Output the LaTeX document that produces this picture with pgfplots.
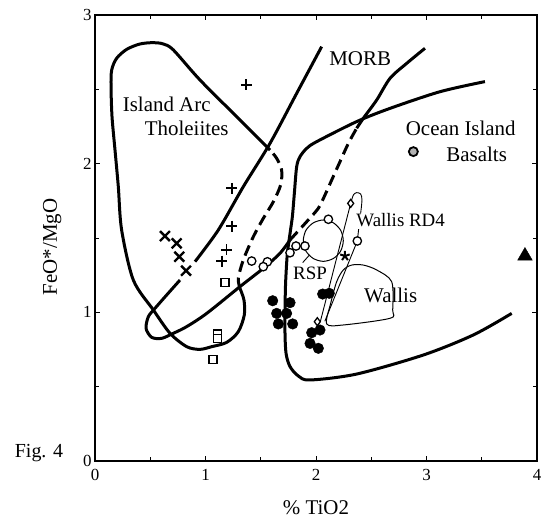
\documentclass[border=0pt]{standalone}
\usepackage{fontspec}
\setmainfont{Liberation Serif}
\usepackage{pgfplots}
\pgfplotsset{compat=1.18}
\begin{document}
\begin{tikzpicture}
\begin{axis}[name=ax, scale only axis, width=442bp, height=446bp,
  xmin=0, xmax=4, ymin=0, ymax=3,
  xtick={0,1,2,3,4}, ytick={0,1,2,3}, minor tick num=1,
  tick align=inside, tick pos=both,
  major tick length=5bp, minor tick length=4bp,
  axis line style={line width=1.4bp},
  every tick/.style={black, line width=1bp},
  /pgf/number format/assume math mode=true,
  ticklabel style={font=\fontsize{17}{20}\selectfont},
  xticklabel style={yshift=-5bp},
  xlabel={\% TiO2}, ylabel={FeO*/MgO},
  label style={font=\fontsize{21}{24}\selectfont},
  x label style={at={(axis description cs:0.5,-0.105)}, anchor=center},
  y label style={at={(axis description cs:-0.097,0.48)}, anchor=center},
  clip=false]

% Island Arc Tholeiites field
\addplot[black, line width=3bp, smooth, tension=0.5] coordinates {
(1.584,2.092)(1.312,2.294)(0.950,2.563)(0.709,2.765)(0.618,2.805)(0.528,2.814)
(0.407,2.805)(0.287,2.769)(0.196,2.709)(0.151,2.630)(0.145,2.518)(0.154,2.316)
(0.181,2.092)(0.211,1.845)(0.241,1.554)(0.347,1.217)(0.528,1.016)(0.679,0.859)
(0.830,0.769)(0.950,0.751)(1.056,0.769)(1.192,0.798)(1.297,0.870)(1.351,0.982)
(1.348,1.083)(1.312,1.161)
};
\addplot[black, line width=3bp, smooth, tension=0.5, dash pattern=on 11bp off 6bp] coordinates {
(1.312,1.161)(1.297,1.229)(1.342,1.352)(1.433,1.509)(1.523,1.632)(1.614,1.744)
(1.680,1.857)(1.689,1.957)(1.644,2.036)(1.584,2.092)
};

% MORB field
\addplot[black, line width=3bp, smooth, tension=0.5] coordinates {
(2.051,2.787)(1.825,2.473)(1.584,2.137)(1.342,1.845)(1.116,1.554)(0.905,1.341)
};
\addplot[black, line width=3bp, smooth, tension=0.5] coordinates {
(0.769,1.217)(0.649,1.117)(0.543,1.027)(0.483,0.971)(0.462,0.892)(0.513,0.832)
(0.603,0.825)(0.709,0.859)(0.830,0.904)(1.011,0.993)(1.312,1.173)(1.523,1.296)
(1.674,1.397)(1.765,1.487)
};
\addplot[black, line width=3bp, smooth, tension=0.5, dash pattern=on 11bp off 6bp] coordinates {
(1.765,1.487)(1.916,1.610)(2.021,1.700)(2.081,1.789)(2.142,1.890)(2.217,2.013)
(2.293,2.137)(2.368,2.238)
};
\addplot[black, line width=3bp, smooth, tension=0.5] coordinates {
(2.368,2.238)(2.428,2.305)(2.549,2.428)(2.670,2.574)(2.821,2.675)(2.986,2.776)
};

% Ocean Island Basalts field
\addplot[black, line width=3bp, smooth, tension=0.5] coordinates {
(3.529,2.552)(3.122,2.484)(2.670,2.372)(2.368,2.283)(2.006,2.148)(1.916,2.103)
(1.855,2.047)(1.825,1.980)(1.804,1.800)(1.786,1.643)(1.765,1.531)(1.741,1.397)
(1.729,1.262)(1.722,1.128)(1.719,0.881)(1.729,0.724)(1.765,0.635)(1.840,0.572)
(1.946,0.545)(2.368,0.585)(2.971,0.713)(3.424,0.848)(3.771,0.993)
};

% RSP circle
\addplot[black, line width=1bp, smooth cycle] coordinates {
(2.247,1.482)(2.223,1.552)(2.157,1.602)(2.066,1.621)(1.976,1.602)(1.909,1.552)
(1.885,1.482)(1.909,1.412)(1.976,1.362)(2.066,1.343)(2.157,1.362)(2.223,1.412)
};
\addplot[black, line width=0.9bp] coordinates {(1.88,1.335)(1.94,1.385)};

% Wallis field
\addplot[black, line width=1bp, smooth cycle, tension=0.5] coordinates {
(2.097,0.922)(2.247,0.915)(2.670,0.960)(2.694,1.016)(2.685,1.206)(2.549,1.285)
(2.428,1.318)(2.323,1.318)(2.247,1.285)(2.187,1.206)(2.133,1.061)
};

% Wallis RD4 trend
\addplot[black, line width=0.9bp] coordinates {(2.314,1.733)(2.04,0.94)};
\addplot[black, line width=0.9bp, smooth] coordinates {
(2.314,1.733)(2.338,1.789)(2.368,1.805)(2.404,1.796)(2.416,1.756)(2.404,1.666)
};
\addplot[black, line width=0.9bp] coordinates {(2.386,1.56)(2.377,1.50)};
\addplot[black, line width=0.9bp] coordinates {(2.374,1.48)(2.08,0.94)};

% samples
\addplot[only marks, mark=+, mark size=5.5bp, line width=1.8bp] coordinates {
(1.37,2.53)(1.237,1.834)(1.237,1.58)(1.19,1.42)(1.146,1.345)
};
\addplot[only marks, mark=x, mark size=7bp, line width=2.4bp] coordinates {
(0.633,1.513)(0.739,1.464)(0.763,1.374)(0.824,1.28)
};
\addplot[only marks, mark=square*, mark size=4bp, line width=1.5bp,
  mark options={fill=white}] coordinates {
(1.176,1.20)(1.107,0.855)(1.107,0.825)(1.07,0.684)
};
\addplot[only marks, mark=*, mark size=4.2bp, line width=1.3bp,
  mark options={fill=white}] coordinates {
(1.418,1.345)(1.56,1.34)(1.523,1.307)(1.765,1.401)(1.819,1.446)(1.90,1.446)
(2.112,1.626)(2.374,1.48)
};
\addplot[only marks, mark=diamond*, mark size=4bp, line width=1.3bp,
  mark options={fill=white}] coordinates {(2.314,1.733)(2.012,0.937)};
\addplot[only marks, mark=star, mark size=5bp, line width=2bp] coordinates {(2.262,1.379)};
\addplot[only marks, mark=*, mark size=5.3bp] coordinates {
(1.608,1.078)(1.765,1.065)(1.644,0.993)(1.734,0.993)(1.659,0.922)(1.789,0.922)
(2.06,1.123)(2.12,1.128)(1.961,0.863)(2.036,0.881)(1.946,0.791)(2.021,0.758)
};
\addplot[only marks, mark=*, mark size=4.5bp, line width=1.8bp,
  mark options={fill=gray!60}] coordinates {(2.881,2.081)};
\addplot[only marks, mark=triangle*, mark size=8.5bp] coordinates {(3.891,1.379)};

% field labels
\node[font=\fontsize{21}{24}\selectfont] at (axis cs:2.40,2.709) {MORB};
\node[font=\fontsize{21}{24}\selectfont] at (axis cs:0.649,2.401) {Island Arc};
\node[font=\fontsize{21}{24}\selectfont] at (axis cs:0.830,2.238) {Tholeiites};
\node[font=\fontsize{21}{24}\selectfont] at (axis cs:3.31,2.238) {Ocean Island};
\node[font=\fontsize{21}{24}\selectfont] at (axis cs:3.454,2.065) {Basalts};
\node[font=\fontsize{19}{22}\selectfont] at (axis cs:2.766,1.621) {Wallis RD4};
\node[font=\fontsize{19}{22}\selectfont] at (axis cs:1.946,1.262) {RSP};
\node[font=\fontsize{21}{24}\selectfont] at (axis cs:2.676,1.117) {Wallis};
\node[font=\fontsize{20}{24}\selectfont] at (axis cs:-0.507,0.054) {Fig. 4};
\end{axis}
\pgfresetboundingbox
\path[use as bounding box] ([shift={(-95bp,-64bp)}]ax.south west) rectangle ([shift={(14bp,15bp)}]ax.north east);
\end{tikzpicture}
\end{document}
